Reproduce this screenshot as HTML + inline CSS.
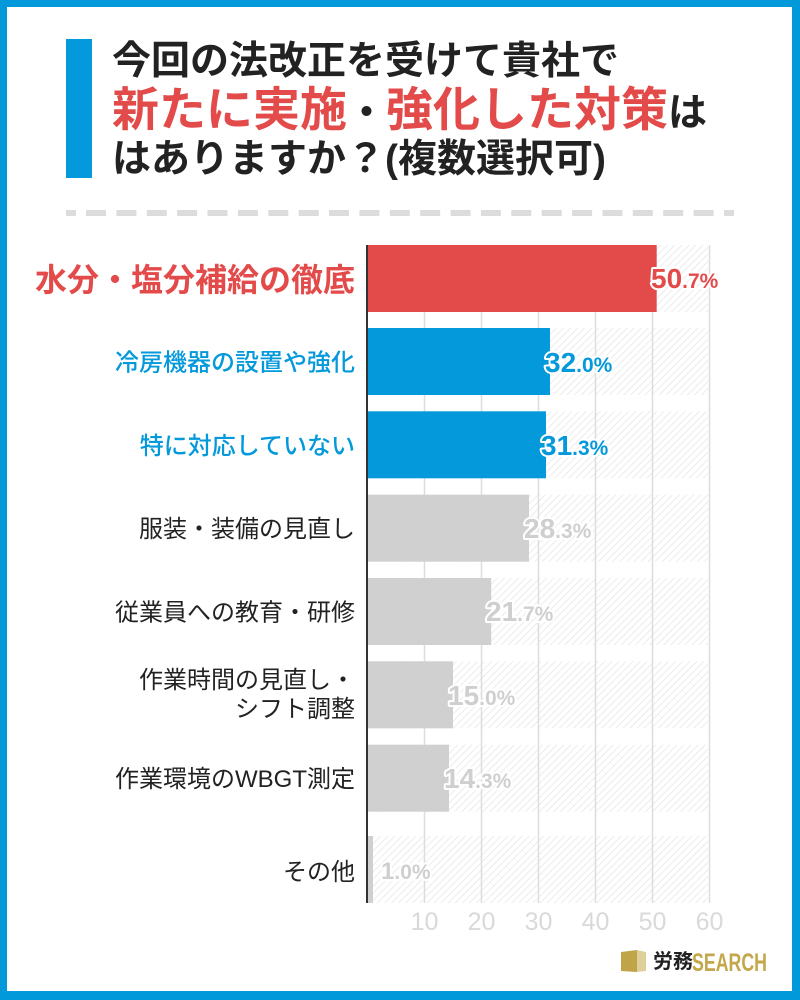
<!DOCTYPE html>
<html><head><meta charset="utf-8"><style>
html,body{margin:0;padding:0;background:#fff}
svg{display:block}
text{font-family:"Liberation Sans","Noto Sans CJK JP",sans-serif}
</style></head><body>
<svg width="800" height="1000" viewBox="0 0 800 1000" xmlns="http://www.w3.org/2000/svg">
<defs>
<pattern id="h" patternUnits="userSpaceOnUse" width="5" height="5" patternTransform="rotate(45)">
<rect width="5" height="5" fill="#fff"/>
<line x1="0" y1="0" x2="0" y2="5" stroke="#e4e4e4" stroke-width="1.4"/>
</pattern>
</defs>
<rect width="800" height="1000" fill="#0299DA"/>
<rect x="7" y="7" width="785" height="984" fill="#fff"/>
<rect x="66" y="39" width="26" height="139" fill="#0399DB"/>
<text x="112" y="74" font-size="39" font-weight="bold" fill="#222">今回の法改正を受けて貴社で</text>
<text x="112" y="126" font-size="39" font-weight="bold" fill="#222"><tspan fill="#E34B4B" font-size="47">新たに実施</tspan><tspan>・</tspan><tspan fill="#E34B4B" font-size="47">強化した対策</tspan><tspan>は</tspan></text>
<text x="112" y="172" font-size="39" font-weight="bold" fill="#222">はありますか？(複数選択可)</text>
<g fill="#dcdcdc">
<rect x="66" y="210" width="10" height="6"/>
<rect x="86" y="210" width="20" height="6"/><rect x="116.4" y="210" width="20" height="6"/><rect x="146.8" y="210" width="20" height="6"/><rect x="177.1" y="210" width="20" height="6"/><rect x="207.5" y="210" width="20" height="6"/><rect x="237.9" y="210" width="20" height="6"/><rect x="268.3" y="210" width="20" height="6"/><rect x="298.7" y="210" width="20" height="6"/><rect x="329" y="210" width="20" height="6"/><rect x="359.4" y="210" width="20" height="6"/><rect x="389.8" y="210" width="20" height="6"/><rect x="420.2" y="210" width="20" height="6"/><rect x="450.6" y="210" width="20" height="6"/><rect x="480.9" y="210" width="20" height="6"/><rect x="511.3" y="210" width="20" height="6"/><rect x="541.7" y="210" width="20" height="6"/><rect x="572.1" y="210" width="20" height="6"/><rect x="602.5" y="210" width="20" height="6"/><rect x="632.8" y="210" width="20" height="6"/><rect x="663.2" y="210" width="20" height="6"/><rect x="693.6" y="210" width="20" height="6"/>
<rect x="724" y="210" width="10" height="6"/>
</g>
<!-- hatch backgrounds -->
<g fill="url(#h)">
<rect x="368" y="245" width="340" height="67"/>
<rect x="368" y="328" width="340" height="67"/>
<rect x="368" y="411.3" width="340" height="67"/>
<rect x="368" y="494.7" width="340" height="67"/>
<rect x="368" y="578" width="340" height="67"/>
<rect x="368" y="661.3" width="340" height="67"/>
<rect x="368" y="744.7" width="340" height="67"/>
<rect x="368" y="836" width="340" height="67"/>
</g>
<!-- gridlines -->
<g stroke="#dddddd" stroke-width="1.5">
<line x1="424.5" y1="245" x2="424.5" y2="903"/>
<line x1="481.5" y1="245" x2="481.5" y2="903"/>
<line x1="538.5" y1="245" x2="538.5" y2="903"/>
<line x1="595.5" y1="245" x2="595.5" y2="903"/>
<line x1="652.5" y1="245" x2="652.5" y2="903"/>
<line x1="709.5" y1="245" x2="709.5" y2="903"/>
</g>
<!-- bars -->
<rect x="368" y="245" width="288.7" height="67" fill="#E34B4B"/>
<rect x="368" y="328" width="182" height="67" fill="#0399DB"/>
<rect x="368" y="411.3" width="178" height="67" fill="#0399DB"/>
<rect x="368" y="494.7" width="161" height="67" fill="#D0D0D0"/>
<rect x="368" y="578" width="123.2" height="67" fill="#D0D0D0"/>
<rect x="368" y="661.3" width="85" height="67" fill="#D0D0D0"/>
<rect x="368" y="744.7" width="81" height="67" fill="#D0D0D0"/>
<rect x="368" y="836" width="5" height="67" fill="#D0D0D0"/>
<rect x="366" y="245" width="2" height="658" fill="#333"/>
<!-- category labels -->
<text x="355" y="291" text-anchor="end" font-size="32" font-weight="bold" fill="#E34B4B">水分・塩分補給の徹底</text>
<text x="355" y="370.5" text-anchor="end" font-size="24" font-weight="500" fill="#0399DB">冷房機器の設置や強化</text>
<text x="355" y="454" text-anchor="end" font-size="24" font-weight="500" fill="#0399DB">特に対応していない</text>
<g font-size="24" fill="#222" text-anchor="end">
<text x="355" y="537">服装・装備の見直し</text>
<text x="355" y="620.5">従業員への教育・研修</text>
<text x="355" y="688">作業時間の見直し・</text>
<text x="355" y="717">シフト調整</text>
<text x="355" y="787">作業環境のWBGT測定</text>
<text x="355" y="880">その他</text>
</g>
<!-- value labels -->
<g font-weight="bold" stroke="#fff" stroke-width="4" stroke-linejoin="round" paint-order="stroke">
<text x="651" y="288" fill="#E34B4B"><tspan font-size="28">50</tspan><tspan font-size="21">.7%</tspan></text>
<text x="545" y="372" fill="#0399DB"><tspan font-size="28">32</tspan><tspan font-size="21">.0%</tspan></text>
<text x="541" y="455" fill="#0399DB"><tspan font-size="28">31</tspan><tspan font-size="21">.3%</tspan></text>
<text x="524" y="538" fill="#CFCFCF"><tspan font-size="28">28</tspan><tspan font-size="21">.3%</tspan></text>
<text x="486" y="621" fill="#CFCFCF"><tspan font-size="28">21</tspan><tspan font-size="21">.7%</tspan></text>
<text x="448" y="705" fill="#CFCFCF"><tspan font-size="28">15</tspan><tspan font-size="21">.0%</tspan></text>
<text x="444" y="788" fill="#CFCFCF"><tspan font-size="28">14</tspan><tspan font-size="21">.3%</tspan></text>
<text x="381" y="879" fill="#CFCFCF"><tspan font-size="24">1</tspan><tspan font-size="21">.0%</tspan></text>
</g>
<!-- ticks -->
<g font-size="25" fill="#d9d9d9" text-anchor="middle">
<text x="424.5" y="930">10</text>
<text x="481.5" y="930">20</text>
<text x="538.5" y="930">30</text>
<text x="595.5" y="930">40</text>
<text x="652.5" y="930">50</text>
<text x="709.5" y="930">60</text>
</g>
<!-- logo -->
<polygon points="621,952 637,950 637,972 621,971" fill="#BFA448"/>
<polygon points="637,950 646,952 646,971 637,972" fill="#DDD09A"/>
<text x="653" y="968" font-size="20" font-weight="bold" fill="#222">労務</text>
<text x="692" y="971" font-size="25" font-weight="bold" fill="#C2A84A" textLength="75" lengthAdjust="spacingAndGlyphs">SEARCH</text>
</svg>
</body></html>
